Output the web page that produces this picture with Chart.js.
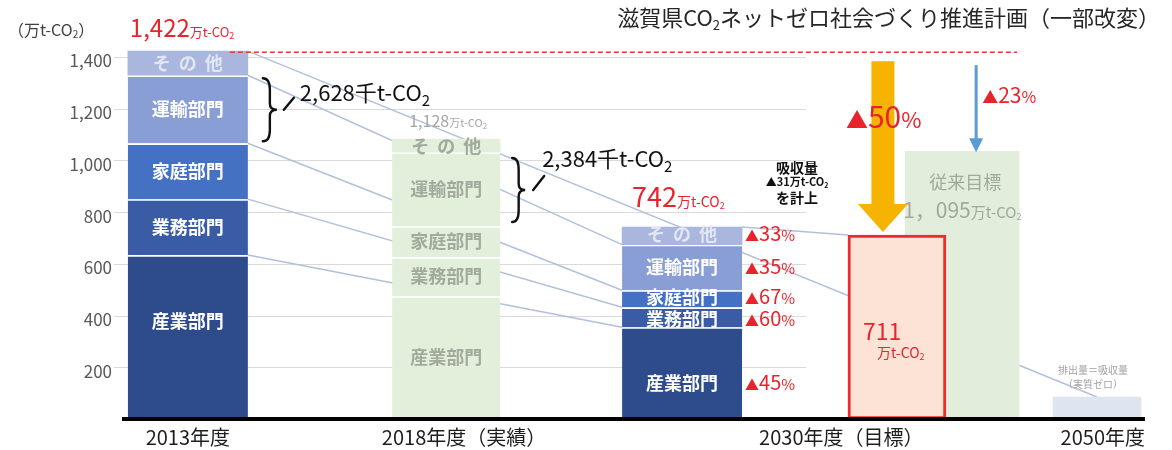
<!DOCTYPE html>
<html lang="ja"><head><meta charset="utf-8">
<script src="https://cdn.jsdelivr.net/npm/chart.js@4.4.1/dist/chart.umd.min.js"></script>
<style>html,body{margin:0;padding:0;background:#fff;overflow:hidden}canvas{display:block}</style>
</head><body>
<canvas id="c" width="1172" height="450"></canvas>
<script>
// ---------------- data ----------------
const sectors = ['産業部門','業務部門','家庭部門','運輸部門','その他'];
const emis2013 = [634, 216, 216, 263, 93];      // total 1,422
const emis2018 = [475, 151, 120, 286, 50];      // as drawn
const emis2030 = [355, 77, 66, 176, 68];        // total 742
const cut2030 = ['45','60','67','35','33'];     // ▲ %
const target2030 = [711];
const formerTarget = [1035];
const emis2050 = [85];
const yTicks = [200, 400, 600, 800, 1000, 1200, 1400];
const yTickLabels = ['200','400','600','800','1,000','1,200','1,400'];
const xLabels = ['2013年度','2018年度（実績）','2030年度（目標）','2050年度'];

// ---------------- layout (slot axis 0..16) ----------------
const SLOT = {y2013:1.03, y2018:5.07, y2030:8.76, target:12.12, former:13.14, y2050:15.25, gridEnd:10.7};
const xLabelSlots = [1.03, 5.35, 11.25, 15.34];

const FONT = '"Noto Sans CJK JP","Noto Sans",sans-serif';
const RED = '#e9232b';
const BLUES = ['#2e4b8b','#3a5ba6','#4471c4','#8a9ed6','#a9b6de'];
const GREEN = '#e2efda';

function stackRanges(vals, slot){ let s=0; return vals.map(v=>{ const d={x:slot, y:[s, s+v]}; s+=v; return d; }); }
function cumTops(vals){ let s=0; return vals.map(v=> (s+=v)); }
const sepWidth = n => c => (c.dataIndex === n-1 ? 0 : {top:2, right:0, bottom:0, left:0});

function rich(ctx, x, y, parts, align){
  const widths = parts.map(p=>{ ctx.font = (p.w||'normal')+' '+p.s+'px '+FONT; return ctx.measureText(p.t).width; });
  const total = widths.reduce((a,b)=>a+b,0);
  let cx = align==='center' ? x-total/2 : align==='right' ? x-total : x;
  ctx.textAlign='left'; ctx.textBaseline='alphabetic';
  parts.forEach((p,i)=>{ ctx.font=(p.w||'normal')+' '+p.s+'px '+FONT; ctx.fillText(p.t, cx, y+(p.dy||0)); cx+=widths[i]; });
}
function brace(ctx, x0, yt, yb, w){
  const ym=(yt+yb)/2, h=yb-yt, xm=x0+w*0.5;
  ctx.beginPath();
  ctx.moveTo(x0, yt);
  ctx.quadraticCurveTo(xm, yt, xm, yt+h*0.18);
  ctx.lineTo(xm, ym-h*0.1);
  ctx.quadraticCurveTo(xm, ym, x0+w, ym);
  ctx.quadraticCurveTo(xm, ym, xm, ym+h*0.1);
  ctx.lineTo(xm, yb-h*0.18);
  ctx.quadraticCurveTo(xm, yb, x0, yb);
  ctx.stroke();
}

const deco = {
  id: 'deco',
  beforeDatasetsDraw(chart){
    const {ctx, chartArea:ca, scales:{x, y}} = chart;
    const bar = i => chart.getDatasetMeta(i).data;
    const s13 = bar(1), s30 = bar(3); const [bT] = bar(0); const [b50] = bar(5);
    const L = b => b.x - b.width/2, R = b => b.x + b.width/2;
    ctx.save();
    // grid lines
    ctx.strokeStyle = '#dadada'; ctx.lineWidth = 1;
    const gx1 = x.getPixelForValue(SLOT.gridEnd);
    yTicks.forEach(v=>{ const py = Math.round(y.getPixelForValue(v))+0.5; ctx.beginPath(); ctx.moveTo(ca.left-8, py); ctx.lineTo(gx1, py); ctx.stroke(); });
    // connector lines
    const c13 = cumTops(emis2013), c30 = cumTops(emis2030);
    ctx.strokeStyle = '#b2c0db'; ctx.lineWidth = 1.5;
    const seg = (x1,v1,x2,v2)=>{ ctx.beginPath(); ctx.moveTo(x1, y.getPixelForValue(v1)); ctx.lineTo(x2, y.getPixelForValue(v2)); ctx.stroke(); };
    for (let k=0;k<4;k++) seg(R(s13[0]), c13[k], L(s30[0]), c30[k]);
    seg(R(s13[0]), c13[4], b50.x, emis2050[0]);
    seg(R(s30[0]), c30[4], L(bT), target2030[0]);
    ctx.restore();
  },
  afterDatasetsDraw(chart){
    const {ctx, chartArea:ca, scales:{x, y}} = chart;
    const bar = i => chart.getDatasetMeta(i).data;
    const [bT] = bar(0); const s13 = bar(1), s18 = bar(2), s30 = bar(3); const [bF] = bar(4); const [b50] = bar(5);
    const L = b => b.x - b.width/2, R = b => b.x + b.width/2;
    const Y = v => y.getPixelForValue(v);
    ctx.save();
    // baseline
    ctx.fillStyle = '#000'; ctx.fillRect(ca.left, Y(0)-2, ca.right-ca.left, 4);

    // segment labels
    const segLabels = (els, vals, color, weight, shifts, otherColor) => {
      const tops = cumTops(vals); const ys = [];
      els.forEach((el,i)=>{
        const py = Y(tops[i]-vals[i]/2) + shifts[i]; ys.push(py);
        ctx.font = weight+' 18px '+FONT; ctx.textAlign='center'; ctx.textBaseline='middle';
        if (sectors[i]==='その他'){
          ctx.fillStyle = otherColor; ctx.letterSpacing='8px';
          ctx.fillText(sectors[i], el.x+4, py); ctx.letterSpacing='0px';
        } else { ctx.fillStyle = color; ctx.fillText(sectors[i], el.x, py); }
      });
      return ys;
    };
    segLabels(s13, emis2013, '#ffffff', 'bold', [-16,0,0,0,0], '#e3e7f3');
    segLabels(s18, emis2018, '#a2aa9e', 'bold', [0,0,0,0,1], '#a2aa9e');
    const ys30 = segLabels(s30, emis2030, '#ffffff', 'bold', [10,2,-2,0,-2], '#e3e7f3');

    // ▲ % labels for 2030
    ctx.fillStyle = RED;
    ys30.forEach((py,i)=> rich(ctx, R(s30[0])+3, py+7, [{t:'▲',s:14},{t:cut2030[i],s:20},{t:'%',s:15}]));

    // red dashed line at 2013 total
    const c13 = cumTops(emis2013), c18 = cumTops(emis2018), c30 = cumTops(emis2030);
    ctx.strokeStyle = '#f0333a'; ctx.lineWidth = 1.6; ctx.setLineDash([5,3]);
    ctx.beginPath(); ctx.moveTo(R(s13[0])-18, Y(c13[4])+1); ctx.lineTo(R(bF)-2, Y(c13[4])+1); ctx.stroke();
    ctx.setLineDash([]);

    // unit and title
    ctx.fillStyle = '#404040';
    rich(ctx, 8, 36, [{t:'（万t-CO',s:16},{t:'2',s:10,dy:2},{t:'）',s:16}]);
    ctx.fillStyle = '#262626';
    rich(ctx, 1160, 26, [{t:'滋賀県CO',s:22},{t:'2',s:13,dy:4},{t:'ネットゼロ社会づくり推進計画（一部改変）',s:22}], 'right');

    // 2013 total
    ctx.fillStyle = RED;
    rich(ctx, L(s13[0])+2, Y(c13[4])-14, [{t:'1,422',s:24},{t:'万t-CO',s:13},{t:'2',s:9,dy:2}]);

    // braces
    ctx.strokeStyle = '#111'; ctx.fillStyle = '#111'; ctx.lineWidth = 2.4; ctx.lineCap = 'round';
    let x0 = R(s13[0])+15, yt = Y(c13[3])+3, yb = Y(c13[2])-2, ym = (yt+yb)/2;
    brace(ctx, x0, yt, yb, 14);
    ctx.beginPath(); ctx.moveTo(x0+21, ym); ctx.lineTo(x0+31, ym-12); ctx.stroke();
    rich(ctx, x0+37, ym-9, [{t:'2,628千t-CO',s:22},{t:'2',s:15,dy:5}]);
    x0 = R(s18[0])+12; yt = Y(c18[3])+6; yb = Y(c18[2])-4; ym = (yt+yb)/2;
    brace(ctx, x0, yt, yb, 13);
    ctx.beginPath(); ctx.moveTo(x0+21, ym); ctx.lineTo(x0+32, ym-14); ctx.stroke();
    rich(ctx, x0+30, ym-23, [{t:'2,384千t-CO',s:22},{t:'2',s:15,dy:5}]);

    // 2018 total
    ctx.fillStyle = '#a6a6a6';
    rich(ctx, s18[0].x+2, Y(c18[4])-12, [{t:'1,128',s:16},{t:'万t-CO',s:11},{t:'2',s:8,dy:2}], 'center');

    // 2030 total
    ctx.fillStyle = RED;
    rich(ctx, L(s30[0])+10, Y(c30[4])-20, [{t:'742',s:27},{t:'万t-CO',s:14},{t:'2',s:9,dy:2}]);
    ctx.fillStyle = '#111';
    const cx = R(s30[0])+55;
    rich(ctx, cx, Y(c30[4])-54, [{t:'吸収量',s:14,w:'bold'}], 'center');
    rich(ctx, cx, Y(c30[4])-41, [{t:'▲31万t-CO',s:11,w:'bold'},{t:'2',s:7,dy:2,w:'bold'}], 'center');
    rich(ctx, cx, Y(c30[4])-24, [{t:'を計上',s:14,w:'bold'}], 'center');

    // yellow arrow (▲50%)
    const ax = L(bT)+35, aTop = Y(c13[4])+10, aTip = Y(target2030[0])-3, hTop = aTip-28;
    ctx.fillStyle = '#f6b300';
    ctx.fillRect(ax-11.5, aTop, 23, hTop-aTop+1);
    ctx.beginPath(); ctx.moveTo(ax-25, hTop); ctx.lineTo(ax+25, hTop); ctx.lineTo(ax, aTip); ctx.closePath(); ctx.fill();
    ctx.fillStyle = RED;
    rich(ctx, L(bT)-2, aTop+67, [{t:'▲',s:22},{t:'50',s:30},{t:'%',s:22}]);

    // blue arrow (▲23%)
    const bx = bF.x+14, bTop = Y(c13[4])+14, bTip = Y(formerTarget[0])+1;
    ctx.strokeStyle = '#5b9bd5'; ctx.lineWidth = 3; ctx.lineCap='butt';
    ctx.beginPath(); ctx.moveTo(bx, bTop); ctx.lineTo(bx, bTip-12); ctx.stroke();
    ctx.fillStyle = '#5b9bd5';
    ctx.beginPath(); ctx.moveTo(bx-7, bTip-14); ctx.lineTo(bx+7, bTip-14); ctx.lineTo(bx, bTip); ctx.closePath(); ctx.fill();
    ctx.fillStyle = RED;
    rich(ctx, bx+6, bTop+38, [{t:'▲',s:16},{t:'23',s:21},{t:'%',s:16}]);

    // former target text
    ctx.fillStyle = '#a0a99c';
    rich(ctx, bF.x+3, Y(formerTarget[0])+38, [{t:'従来目標',s:18}], 'center');
    rich(ctx, L(bF)-2, Y(formerTarget[0])+67, [{t:'1，095',s:21},{t:'万t-CO',s:15},{t:'2',s:9,dy:2}]);

    // target text
    ctx.fillStyle = RED;
    rich(ctx, L(bT)+15, Y(target2030[0])+105, [{t:'711',s:23}]);
    rich(ctx, L(bT)+29, Y(target2030[0])+123, [{t:'万t-CO',s:14},{t:'2',s:9,dy:2}]);

    // 2050 note
    ctx.fillStyle = '#a3a3a3';
    rich(ctx, b50.x-4, Y(emis2050[0])-23, [{t:'排出量＝吸収量',s:10}], 'center');
    rich(ctx, b50.x-4, Y(emis2050[0])-9, [{t:'（実質ゼロ）',s:10}], 'center');
    ctx.restore();
  }
};

const datasets = [
  {label:'2030目標', data:[{x:SLOT.target, y:[0, target2030[0]]}], backgroundColor:'#fde3d5', borderColor:'#ee2a2a', borderWidth:3, borderSkipped:false, barThickness:98, order:0},
  {label:'2013', data:stackRanges(emis2013, SLOT.y2013), backgroundColor:BLUES, borderColor:'#ffffff', borderWidth:sepWidth(5), borderSkipped:false, barThickness:120, order:1},
  {label:'2018', data:stackRanges(emis2018, SLOT.y2018), backgroundColor:GREEN, borderColor:'#ffffff', borderWidth:sepWidth(5), borderSkipped:false, barThickness:108, order:1},
  {label:'2030', data:stackRanges(emis2030, SLOT.y2030), backgroundColor:BLUES, borderColor:'#ffffff', borderWidth:sepWidth(5), borderSkipped:false, barThickness:120, order:1},
  {label:'従来目標', data:[{x:SLOT.former, y:[0, formerTarget[0]]}], backgroundColor:'#e2eedb', borderWidth:0, barThickness:114, order:3},
  {label:'2050', data:[{x:SLOT.y2050, y:[0, emis2050[0]]}], backgroundColor:'#dde5f1', borderWidth:0, barThickness:88, order:1}
];

new Chart(document.getElementById('c'), {
  type: 'bar',
  data: { datasets },
  options: {
    responsive: false, animation: false,
    layout: { padding: { top: 31, right: 27, bottom: 0, left: 0 } },
    plugins: { legend: {display:false}, tooltip: {enabled:false} },
    scales: {
      x: {
        type: 'linear', min: 0, max: 16, offset: false, stacked: true,
        grid: {display:false, drawTicks:false}, border: {display:false},
        afterBuildTicks: s => { s.ticks = xLabelSlots.map(v=>({value:v})); },
        afterFit: s => { s.height = 31; },
        ticks: { autoSkip:false, maxRotation:0, padding:6, color:'#1e1e1e', font:{family:FONT, size:20},
          callback: (v,i) => xLabels[i] }
      },
      y: {
        min: 0, max: 1500, stacked: false,
        grid: {display:false, drawTicks:false}, border: {display:false},
        afterBuildTicks: s => { s.ticks = yTicks.map(v=>({value:v})); },
        afterFit: s => { s.width = 122; },
        ticks: { autoSkip:false, padding:10, labelOffset:4, color:'#595959', font:{family:FONT, size:17},
          callback: (v) => yTickLabels[yTicks.indexOf(v)] }
      }
    }
  },
  plugins: [deco]
});
</script>
</body></html>
